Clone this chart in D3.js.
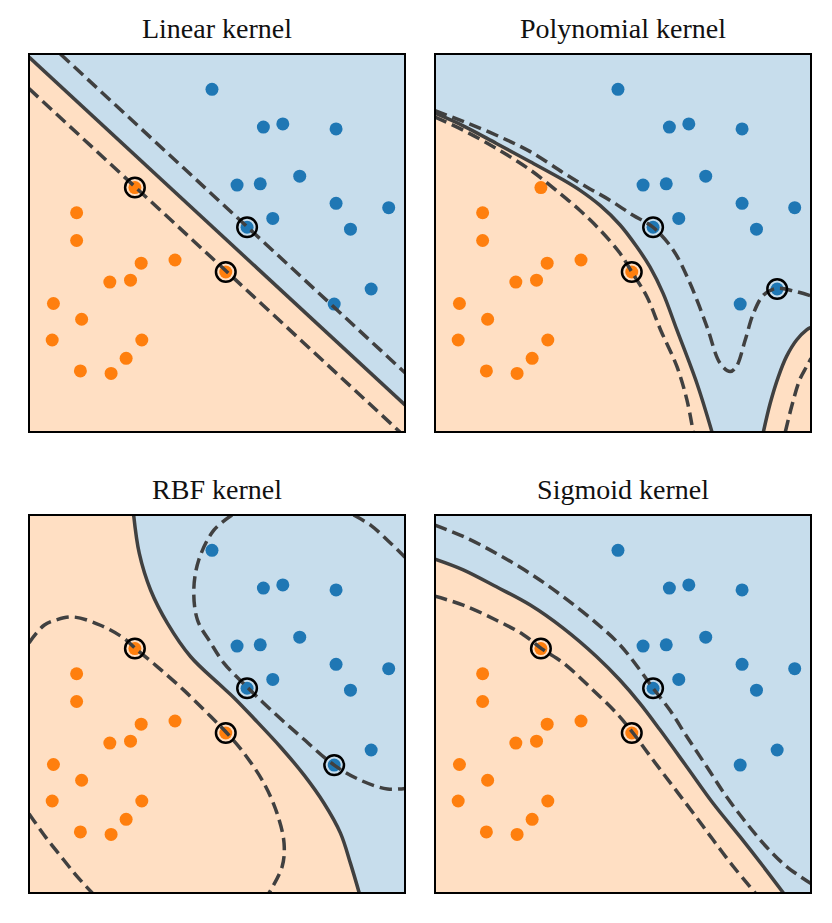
<!DOCTYPE html>
<html><head><meta charset="utf-8">
<script src="https://cdn.jsdelivr.net/npm/d3@7"></script>
<style>body{margin:0;background:#fff}</style>
</head><body>
<svg id="chart" width="832" height="923"></svg>
<script>
// ---------------- data ----------------
const kernelTitles = ["Linear kernel", "Polynomial kernel", "RBF kernel", "Sigmoid kernel"];
const domainExtent = [-3, 3];

const blueClass = [[-0.08,2.44],[0.74,1.84],[1.05,1.89],[1.90,1.81],[0.32,0.92],[0.69,0.94],[1.32,1.06],
  [1.90,0.63],[2.74,0.56],[0.89,0.39],[0.48,0.25],[2.13,0.22],[2.46,-0.73],[1.87,-0.97]];
const orangeClass = [[-1.31,0.88],[-2.24,0.48],[-2.24,0.04],[-1.21,-0.32],[-0.67,-0.27],[-1.71,-0.62],
  [-1.38,-0.59],[-2.61,-0.96],[-2.16,-1.21],[-2.63,-1.54],[-1.20,-1.54],[-1.45,-1.83],[-2.18,-2.03],
  [-1.69,-2.07],[0.14,-0.46]];

const svLinear  = [[-1.31,0.88],[0.14,-0.46],[0.48,0.25]];
const svPoly    = [[0.48,0.25],[0.14,-0.46],[2.46,-0.73]];
const svRbf     = [[-1.31,0.88],[0.48,0.25],[0.14,-0.46],[1.87,-0.97]];
const svSigmoid = [[-1.31,0.88],[0.48,0.25],[0.14,-0.46]];

// decision boundaries (level 0)
const linearBoundary = [[-3,2.95],[3,-2.57]];
const polyBoundaryA = [[-3,2.06],[-2.55,1.86],[-2.02,1.58],[-1.48,1.29],[-0.95,1.00],[-0.69,0.84],[-0.37,0.60],
  [-0.05,0.29],[0.22,-0.06],[0.43,-0.38],[0.64,-0.80],[0.86,-1.38],[1.18,-2.23],[1.42,-3]];
const polyBoundaryB = [[2.24,-3],[2.35,-2.54],[2.48,-2.12],[2.61,-1.80],[2.77,-1.54],[2.93,-1.38],[3,-1.34]];
const rbfBoundary = [[-1.33,3],[-1.24,2.39],[-1.06,1.81],[-0.79,1.28],[-0.42,0.75],[0.03,0.32],[0.27,0.10],
  [0.59,-0.23],[1.02,-0.69],[1.39,-1.13],[1.71,-1.58],[1.97,-2.05],[2.13,-2.53],[2.27,-3]];
const sigmoidBoundary = [[-3,2.30],[-2.55,2.13],[-2.02,1.86],[-1.48,1.57],[-0.95,1.20],[-0.42,0.75],[-0.05,0.38],
  [0.27,0.01],[0.59,-0.41],[1.02,-1.0],[1.44,-1.58],[1.87,-2.11],[2.24,-2.58],[2.56,-3]];

// margins (levels -1 and +1)
const linearMargins = [
  [[-2.50,3],[3,-2.06]],
  [[-3,2.45],[2.92,-3]]
];
const polyMargins = [
  [[-3,2.10],[-2.55,1.93],[-2.02,1.71],[-1.48,1.45],[-0.93,1.10],[-0.58,0.89],[-0.21,0.68],[0.16,0.44],
   [0.48,0.25],[0.80,-0.11],[1.07,-0.64],[1.34,-1.33],[1.55,-1.91],[1.71,-2.04],[1.81,-1.96],
   [1.95,-1.54],[2.08,-1.12],[2.24,-0.83],[2.45,-0.72],[2.72,-0.76],[3,-0.84]],
  [[-3,2.00],[-2.55,1.79],[-2.02,1.50],[-1.48,1.16],[-1.01,0.79],[-0.69,0.52],[-0.37,0.21],[-0.05,-0.16],
   [0.14,-0.46],[0.38,-0.85],[0.60,-1.38],[0.86,-1.96],[1.02,-2.49],[1.12,-3]],
  [[2.59,-3],[2.69,-2.60],[2.82,-2.17],[2.93,-1.96],[3,-1.83]]
];
const rbfMargins = [
  [[-3,0.97],[-2.76,1.25],[-2.55,1.34],[-2.28,1.38],[-1.86,1.25],[-1.48,1.04],[-1.30,0.88],[-0.95,0.59],
   [-0.53,0.22],[-0.10,-0.20],[0.14,-0.44],[0.43,-0.78],[0.75,-1.26],[0.96,-1.74],[1.07,-2.21],[1.04,-2.58],[0.83,-3]],
  [[-3,-1.74],[-2.76,-2.08],[-2.49,-2.42],[-2.23,-2.74],[-1.99,-3]],
  [[2.18,3],[2.45,2.84],[2.72,2.60],[2.96,2.37],[3,2.33]],
  [[0.24,3],[-0.05,2.76],[-0.29,2.29],[-0.37,1.81],[-0.31,1.33],[-0.10,0.97],[0.11,0.65],[0.48,0.27],
   [0.91,-0.14],[1.34,-0.52],[1.87,-0.97],[2.29,-1.21],[2.72,-1.35],[3,-1.34]]
];
const sigmoidMargins = [
  [[-3,2.84],[-2.55,2.66],[-2.02,2.39],[-1.48,2.07],[-0.95,1.70],[-0.42,1.28],[-0.05,0.94],[0.27,0.54],
   [0.48,0.25],[0.75,-0.10],[1.02,-0.52],[1.34,-1.0],[1.65,-1.47],[1.97,-1.89],[2.29,-2.27],[2.61,-2.58],[3,-2.85]],
  [[-3,1.71],[-2.55,1.57],[-2.02,1.33],[-1.59,1.10],[-1.30,0.88],[-0.95,0.65],[-0.53,0.27],[-0.10,-0.15],
   [0.16,-0.46],[0.48,-0.89],[0.80,-1.31],[1.12,-1.73],[1.44,-2.16],[1.76,-2.58],[2.11,-3]]
];

// ---------------- layout / style ----------------
const BLUE = "#1f77b4", ORANGE = "#ff7f0e";
const BLUE_BG = "#c7ddec", ORANGE_BG = "#ffdfc3";
const LINE_COL = "#404040";
const W = 376, H = 378;
const panelPos = [[29,54],[435,54],[29,515],[435,515]];

const panels = [
  {title: kernelTitles[0], bg: BLUE_BG, regions: [{curve: linearBoundary, corners: ["br","bl"], fill: ORANGE_BG}],
   boundaries: [linearBoundary], margins: linearMargins, sv: svLinear},
  {title: kernelTitles[1], bg: BLUE_BG, regions: [{curve: polyBoundaryA, corners: ["bl"], fill: ORANGE_BG},
                                                  {curve: polyBoundaryB, corners: ["br"], fill: ORANGE_BG}],
   boundaries: [polyBoundaryA, polyBoundaryB], margins: polyMargins, sv: svPoly},
  {title: kernelTitles[2], bg: ORANGE_BG, regions: [{curve: rbfBoundary, corners: ["br","tr"], fill: BLUE_BG}],
   boundaries: [rbfBoundary], margins: rbfMargins, sv: svRbf},
  {title: kernelTitles[3], bg: BLUE_BG, regions: [{curve: sigmoidBoundary, corners: ["bl"], fill: ORANGE_BG}],
   boundaries: [sigmoidBoundary], margins: sigmoidMargins, sv: svSigmoid}
];

const svg = d3.select("#chart");
const cornerMap = {
  bl: [domainExtent[0], domainExtent[0]], br: [domainExtent[1], domainExtent[0]],
  tl: [domainExtent[0], domainExtent[1]], tr: [domainExtent[1], domainExtent[1]]
};

panels.forEach((p, i) => {
  const [x0, y0] = panelPos[i];
  const sx = d3.scaleLinear().domain(domainExtent).range([x0, x0 + W]);
  const sy = d3.scaleLinear().domain(domainExtent).range([y0 + H, y0]);
  const line = d3.line().x(d => sx(d[0])).y(d => sy(d[1])).curve(d3.curveCatmullRom.alpha(0.5));

  const clipId = "clip" + i;
  svg.append("clipPath").attr("id", clipId).append("rect")
    .attr("x", x0).attr("y", y0).attr("width", W).attr("height", H);

  const g = svg.append("g").attr("clip-path", `url(#${clipId})`);
  g.append("rect").attr("x", x0).attr("y", y0).attr("width", W).attr("height", H).attr("fill", p.bg);

  p.regions.forEach(r => {
    let d = line(r.curve);
    r.corners.forEach(c => { const pt = cornerMap[c]; d += "L" + sx(pt[0]) + "," + sy(pt[1]); });
    d += "Z";
    g.append("path").attr("d", d).attr("fill", r.fill).attr("stroke", "none");
  });

  g.selectAll(".pb").data(blueClass).join("circle").attr("class", "pb")
    .attr("cx", d => sx(d[0])).attr("cy", d => sy(d[1])).attr("r", 6.5).attr("fill", BLUE);
  g.selectAll(".po").data(orangeClass).join("circle").attr("class", "po")
    .attr("cx", d => sx(d[0])).attr("cy", d => sy(d[1])).attr("r", 6.5).attr("fill", ORANGE);

  p.boundaries.forEach(b => {
    g.append("path").attr("d", line(b)).attr("fill", "none").attr("stroke", LINE_COL).attr("stroke-width", 3.5);
  });
  p.margins.forEach(m => {
    g.append("path").attr("d", line(m)).attr("fill", "none").attr("stroke", LINE_COL)
      .attr("stroke-width", 3.5).attr("stroke-dasharray", "12.5,6");
  });

  g.selectAll(".sv").data(p.sv).join("circle").attr("class", "sv")
    .attr("cx", d => sx(d[0])).attr("cy", d => sy(d[1])).attr("r", 9.8)
    .attr("fill", "none").attr("stroke", "#000").attr("stroke-width", 2.5);

  svg.append("rect").attr("x", x0).attr("y", y0).attr("width", W).attr("height", H)
    .attr("fill", "none").attr("stroke", "#000").attr("stroke-width", 2);

  svg.append("text").attr("x", x0 + W / 2).attr("y", y0 - 16)
    .attr("text-anchor", "middle").attr("font-family", "'Liberation Serif', serif")
    .attr("font-size", 28).attr("fill", "#111").text(p.title);
});
</script>
</body></html>
